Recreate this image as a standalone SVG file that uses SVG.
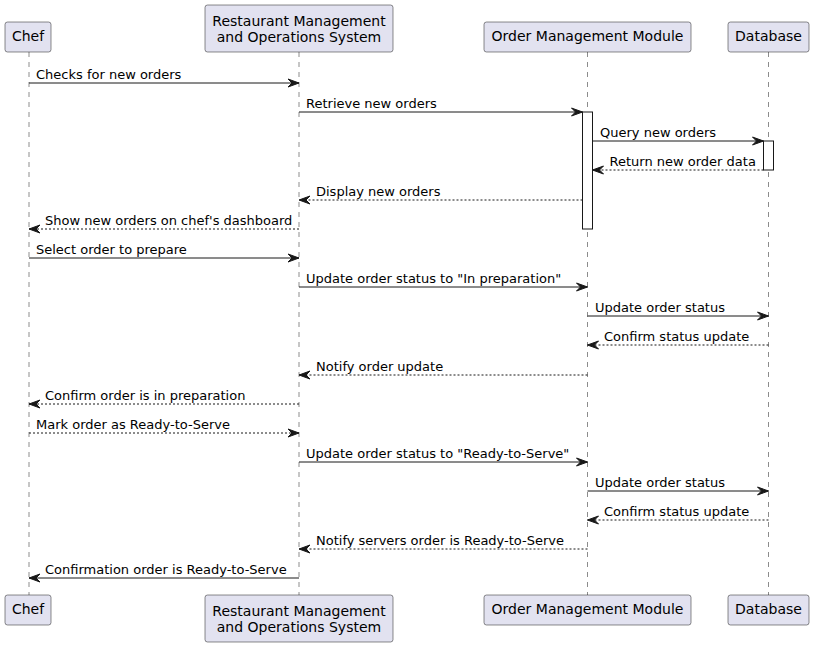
<svg xmlns="http://www.w3.org/2000/svg" width="814" height="647" viewBox="0 0 814 647">
<style>
.box{fill:#E2E2F0;stroke:#181818;stroke-width:0.5}
.life{stroke:#181818;stroke-width:0.5;stroke-dasharray:5,5;fill:none}
.act{fill:#FFFFFF;stroke:#181818;stroke-width:1}
.msg{stroke:#181818;stroke-width:1;fill:none;marker-end:url(#ah)}
.dash{stroke-dasharray:2,2}
.pt{font-family:"DejaVu Sans",sans-serif;font-size:14px;fill:#000;text-anchor:middle}
.mt{font-family:"DejaVu Sans",sans-serif;font-size:13px;fill:#000}
</style>
<defs>
<marker id="ah" markerUnits="userSpaceOnUse" markerWidth="12" markerHeight="10" refX="11" refY="4" orient="auto" overflow="visible">
<path d="M0,0 L11,4 L0,8 L4,4 Z" fill="#181818" stroke="#181818" stroke-width="1" stroke-dasharray="none"/>
</marker>
</defs>
<rect width="814" height="647" fill="#FFFFFF"/>
<g id="lifelines">
<line class="life" x1="29" y1="52" x2="29" y2="595"/>
<line class="life" x1="299" y1="52" x2="299" y2="595"/>
<line class="life" x1="587.5" y1="52" x2="587.5" y2="595"/>
<line class="life" x1="768.5" y1="52" x2="768.5" y2="595"/>
</g>
<g id="chef">
<rect class="box" x="5" y="22" width="46" height="30" rx="2.5"/>
<text class="pt" x="28" y="41">Chef</text>
<rect class="box" x="5" y="595" width="46" height="30" rx="2.5"/>
<text class="pt" x="28" y="614">Chef</text>
</g>
<g id="rmos">
<rect class="box" x="205" y="5" width="188" height="47" rx="2.5"/>
<text class="pt" x="299" y="25.5">Restaurant Management</text>
<text class="pt" x="299" y="41.5">and Operations System</text>
<rect class="box" x="205" y="595" width="188" height="47" rx="2.5"/>
<text class="pt" x="299" y="615.5">Restaurant Management</text>
<text class="pt" x="299" y="631.5">and Operations System</text>
</g>
<g id="omm">
<rect class="box" x="484" y="22" width="207" height="30" rx="2.5"/>
<text class="pt" x="587.5" y="41">Order Management Module</text>
<rect class="box" x="484" y="595" width="207" height="30" rx="2.5"/>
<text class="pt" x="587.5" y="614">Order Management Module</text>
<rect class="act" x="582.5" y="112" width="10" height="117"/>
</g>
<g id="database">
<rect class="box" x="728" y="22" width="81" height="30" rx="2.5"/>
<text class="pt" x="768.5" y="41">Database</text>
<rect class="box" x="728" y="595" width="81" height="30" rx="2.5"/>
<text class="pt" x="768.5" y="614">Database</text>
<rect class="act" x="763.5" y="141" width="10" height="29"/>
</g>
<g id="connectors">
<line class="msg" x1="29" y1="83" x2="299" y2="83"/>
<text class="mt" x="36" y="79">Checks for new orders</text>
<line class="msg" x1="299" y1="112" x2="582.5" y2="112"/>
<text class="mt" x="306" y="108">Retrieve new orders</text>
<line class="msg" x1="592.5" y1="141" x2="763.5" y2="141"/>
<text class="mt" x="600" y="137">Query new orders</text>
<line class="msg dash" x1="763.5" y1="170" x2="592.5" y2="170"/>
<text class="mt" x="609.5" y="166">Return new order data</text>
<line class="msg dash" x1="582.5" y1="200" x2="299" y2="200"/>
<text class="mt" x="316" y="196">Display new orders</text>
<line class="msg dash" x1="299" y1="229" x2="29" y2="229"/>
<text class="mt" x="45" y="225">Show new orders on chef's dashboard</text>
<line class="msg" x1="29" y1="258" x2="299" y2="258"/>
<text class="mt" x="36" y="254">Select order to prepare</text>
<line class="msg" x1="299" y1="287" x2="587.5" y2="287"/>
<text class="mt" x="306" y="283">Update order status to "In preparation"</text>
<line class="msg" x1="587.5" y1="316" x2="768.5" y2="316"/>
<text class="mt" x="595" y="312">Update order status</text>
<line class="msg dash" x1="768.5" y1="345" x2="587.5" y2="345"/>
<text class="mt" x="604" y="341">Confirm status update</text>
<line class="msg dash" x1="587.5" y1="375" x2="299" y2="375"/>
<text class="mt" x="316" y="371">Notify order update</text>
<line class="msg dash" x1="299" y1="404" x2="29" y2="404"/>
<text class="mt" x="45" y="400">Confirm order is in preparation</text>
<line class="msg dash" x1="29" y1="433" x2="299" y2="433"/>
<text class="mt" x="36" y="429">Mark order as Ready-to-Serve</text>
<line class="msg" x1="299" y1="462" x2="587.5" y2="462"/>
<text class="mt" x="306" y="458">Update order status to "Ready-to-Serve"</text>
<line class="msg" x1="587.5" y1="491" x2="768.5" y2="491"/>
<text class="mt" x="595" y="487">Update order status</text>
<line class="msg dash" x1="768.5" y1="520" x2="587.5" y2="520"/>
<text class="mt" x="604" y="516">Confirm status update</text>
<line class="msg dash" x1="587.5" y1="549" x2="299" y2="549"/>
<text class="mt" x="316" y="545">Notify servers order is Ready-to-Serve</text>
<line class="msg" x1="299" y1="578" x2="29" y2="578"/>
<text class="mt" x="45" y="574">Confirmation order is Ready-to-Serve</text>
</g>
</svg>
